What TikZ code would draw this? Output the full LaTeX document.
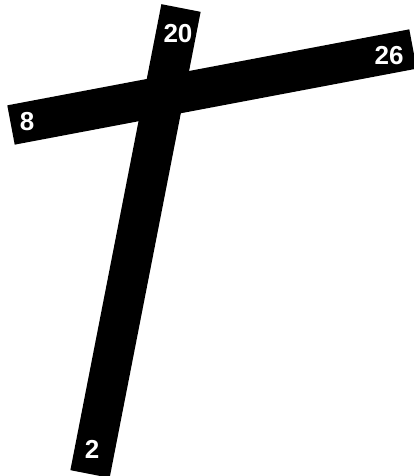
\documentclass[tikz,border=0pt]{standalone}
\usepackage{fontspec}
\setmainfont{Liberation Sans}
\usetikzlibrary{positioning}

\begin{document}
\begin{tikzpicture}[x=1pt,y=-1pt,
bar/.style={line width=#1,draw=black,line cap=butt},
num/.style={text=white,font=\bfseries\fontsize{26}{26}\selectfont,inner sep=0pt}]
\useasboundingbox(0,0)rectangle(413,476);
\coordinate(top)at(181,8);
\coordinate(bot)at(90,474);
\coordinate(lft)at(11,125);
\coordinate(rgt)at(413,49);
\draw[bar=40pt](top)--(bot);
\draw[bar=40pt](lft)--(rgt);
\node[num](n20)at(178,34){20};
\node[num](n26)at(389,56){26};
\node[num](n8)at(27,122){8};
\node[num](n2)at(92,449){2};
\end{tikzpicture}
\end{document}
